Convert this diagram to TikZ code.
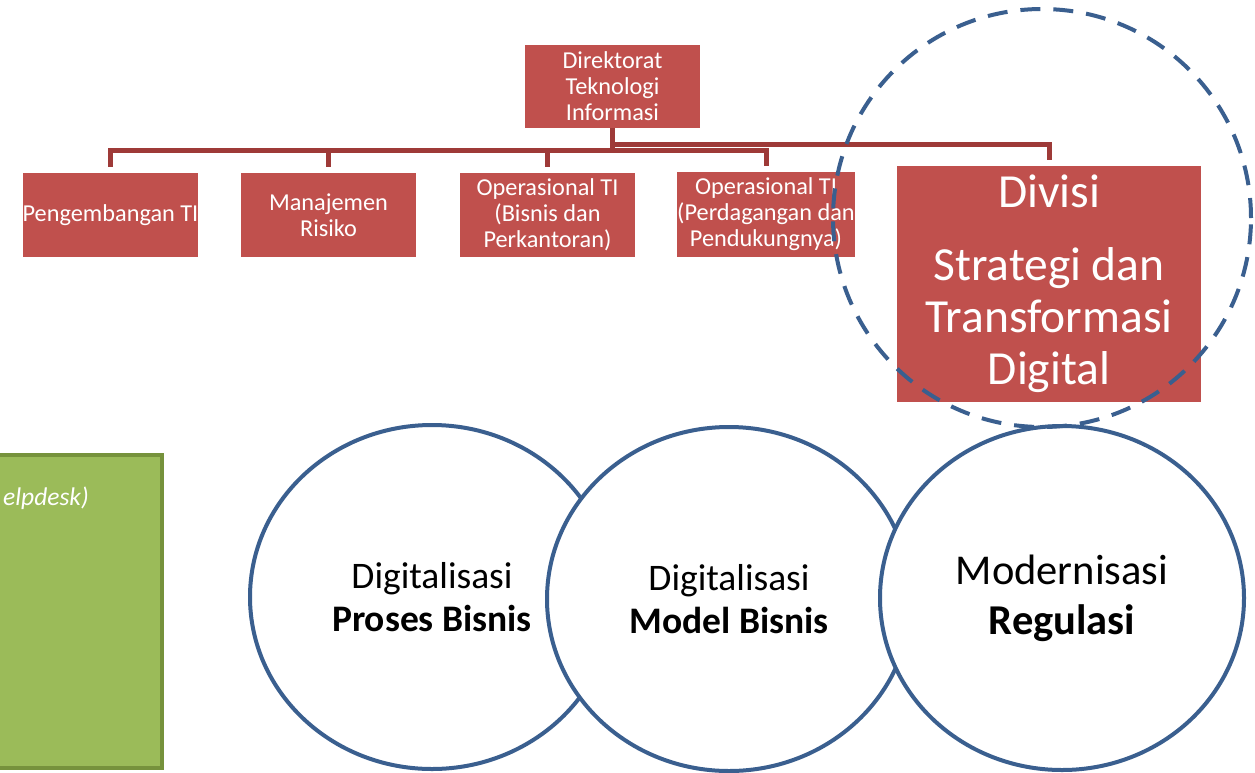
\documentclass[tikz,border=0pt]{standalone}
\usepackage{fontspec}
\setmainfont{Carlito}
\usetikzlibrary{shapes.geometric,calc}
\definecolor{boxred}{HTML}{C0504D}
\definecolor{linered}{HTML}{9E3A38}
\definecolor{ringblue}{HTML}{3A5F8F}
\definecolor{leaf}{HTML}{9BBB59}
\definecolor{leafedge}{HTML}{76923C}
\begin{document}
\begin{tikzpicture}[x=1pt,y=-1pt,
  orgbox/.style={rectangle, fill=boxred, text=white, align=center, inner sep=0pt,
    font=\fontsize{24.3}{26}\selectfont},
  conn/.style={draw=linered, line width=5pt},
  ring/.style={ellipse, draw=ringblue, line width=4pt, fill=white,
    minimum width=364pt, minimum height=344pt, align=center, inner sep=0pt},
  focusring/.style={circle, draw=ringblue, line width=4pt, dash pattern=on 20pt off 13pt,
    minimum size=418pt, inner sep=0pt}
]
\useasboundingbox (0,0) rectangle (1255,772);
\fill[white] (0,0) rectangle (1255,772);

% org chart boxes
\node[orgbox, minimum width=175pt, minimum height=83pt] (top) at (612.5,86.5) {Direktorat\\Teknologi\\Informasi};
\node[orgbox, minimum width=173pt, minimum height=84pt] (b1) at (110.5,215) {Pengembangan TI};
\node[orgbox, minimum width=175pt, minimum height=84pt] (b2) at (328.5,215) {Manajemen\\Risiko};
\node[orgbox, minimum width=175pt, minimum height=84pt] (b3) at (547.5,215) {Operasional TI\\(Bisnis dan\\Perkantoran)};
\node[orgbox, minimum width=174pt, minimum height=85pt] (b4) at (766,214.5) {Operasional TI\\(Perdagangan dan\\Pendukungnya)};
\node[orgbox, minimum width=304pt, minimum height=236pt, font=\fontsize{47.5}{52}\selectfont] (div) at (1049,284)
  {Divisi\\[21pt]Strategi dan\\Transformasi\\Digital};

% connectors
\coordinate (hub) at ($(top.south)+(0,22)$);
\draw[conn] (top.south) -- (hub);
\draw[conn] (hub) -| ([yshift=6pt]b1.north);
\draw[conn] (hub) -| ([yshift=6pt]b2.north);
\draw[conn] (hub) -| ([yshift=6pt]b3.north);
\draw[conn] (hub) -| ([yshift=6pt]b4.north);
\draw[conn] ([yshift=-16pt]top.south) -| ([yshift=6pt]div.north);

% green box
\node[rectangle, draw=leafedge, fill=leaf, line width=4pt, minimum width=180pt, minimum height=313pt] (green) at (72,611.5) {};
\node[anchor=east, text=white, inner sep=0pt, font=\fontsize{25.5}{30}\selectfont\itshape] (gtext) at (89,498) {elpdesk)};

% ellipses
\node[ring, font=\fontsize{37.5}{43}\selectfont] (e1) at (432,597) {Digitalisasi\\\textbf{Proses Bisnis}};
\node[ring, font=\fontsize{37.5}{43}\selectfont] (e2) at (729,599) {Digitalisasi\\\textbf{Model Bisnis}};
\node[ring, font=\fontsize{42.5}{50}\selectfont] (e3) at (1062,598) {Modernisasi\\\textbf{Regulasi}};

% dashed focus circle
\node[focusring] (focus) at (1042,218) {};
\end{tikzpicture}
\end{document}
